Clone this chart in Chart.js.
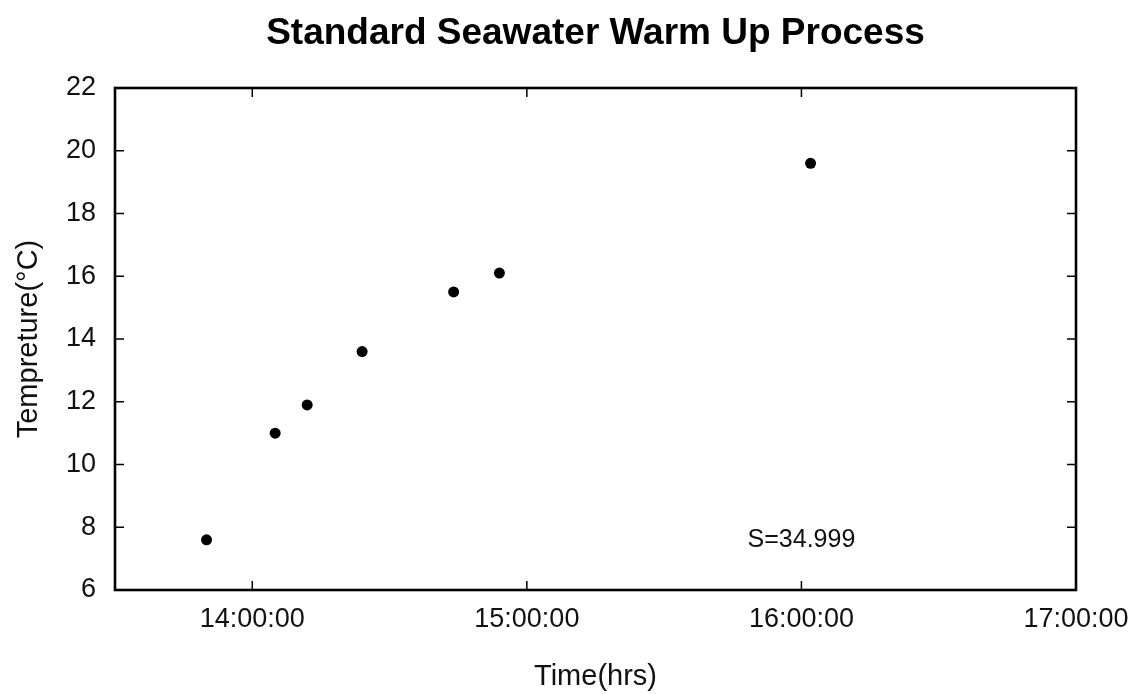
<!DOCTYPE html>
<html lang="en">
<head>
  <meta charset="UTF-8" />
  <title>Standard Seawater Warm Up Process</title>
  <script src="https://cdn.jsdelivr.net/npm/chart.js@4.4.1/dist/chart.umd.min.js"></script>
  <style>
    html, body { margin: 0; padding: 0; background: #fff; }
    canvas { display: block; }
  </style>
</head>
<body>
  <canvas id="warmUpChart" width="1143" height="694"></canvas>

  <script>
    // logged sample times (hh:mm) and bath temperature in degC
    const sampleTimes = ['13:50', '14:05', '14:12', '14:24', '14:44', '14:54', '16:02'];
    const temperatures = [7.6, 11.0, 11.9, 13.6, 15.5, 16.1, 19.6];

    // axis ticks
    const hourTicks = [14, 15, 16, 17];
    const hourLabels = ['14:00:00', '15:00:00', '16:00:00', '17:00:00'];
    const tempTicks = [6, 8, 10, 12, 14, 16, 18, 20, 22];

    const chartTitle = 'Standard Seawater Warm Up Process';

    // salinity of the standard seawater batch
    const salinityNote = 'S=34.999';
    const noteAt = { time: 16, temp: 7.6 };

    const FONT = "'Liberation Sans', Arial, Helvetica, sans-serif";

    const toHours = t => {
      const [h, m] = t.split(':').map(Number);
      return h + m / 60;
    };
    const points = sampleTimes.map((t, i) => ({ x: toHours(t), y: temperatures[i] }));

    // closed box around the plot, inward ticks on every side, title and the S= note
    const boxFrame = {
      id: 'boxFrame',
      afterDraw(chart) {
        const { ctx, chartArea: a, scales: { x, y } } = chart;
        const len = 9;
        ctx.save();
        ctx.strokeStyle = '#000';
        ctx.lineWidth = 1.5;
        ctx.beginPath();
        x.ticks.forEach(t => {
          const px = x.getPixelForValue(t.value);
          if (px <= a.left + 2 || px >= a.right - 2) return;
          ctx.moveTo(px, a.bottom); ctx.lineTo(px, a.bottom - len);
          ctx.moveTo(px, a.top); ctx.lineTo(px, a.top + len);
        });
        y.ticks.forEach(t => {
          const py = y.getPixelForValue(t.value);
          if (py <= a.top + 2 || py >= a.bottom - 2) return;
          ctx.moveTo(a.left, py); ctx.lineTo(a.left + len, py);
          ctx.moveTo(a.right, py); ctx.lineTo(a.right - len, py);
        });
        ctx.stroke();
        ctx.lineWidth = 2.6;
        ctx.strokeRect(a.left, a.top, a.width, a.height);

        ctx.textAlign = 'center';
        ctx.textBaseline = 'middle';
        ctx.fillStyle = '#000';
        ctx.font = 'bold 37px ' + FONT;
        ctx.fillText(chartTitle, (a.left + a.right) / 2, 34);

        ctx.fillStyle = '#111';
        ctx.font = '25px ' + FONT;
        ctx.fillText(salinityNote, x.getPixelForValue(noteAt.time), y.getPixelForValue(noteAt.temp));
        ctx.restore();
      }
    };

    new Chart(document.getElementById('warmUpChart'), {
      type: 'scatter',
      data: {
        datasets: [{
          data: points,
          pointRadius: 5.5,
          pointHoverRadius: 5.5,
          pointBackgroundColor: '#000',
          pointBorderWidth: 0
        }]
      },
      options: {
        responsive: false,
        animation: false,
        layout: { padding: { left: 0, right: 67, top: 88, bottom: 0 } },
        plugins: {
          legend: { display: false },
          tooltip: { enabled: false },
          title: { display: false }
        },
        scales: {
          x: {
            type: 'linear',
            min: 13.5,
            max: 17,
            afterBuildTicks: s => { s.ticks = hourTicks.map(v => ({ value: v })); },
            afterFit: s => { s.height = 104; },
            grid: { display: false },
            border: { display: false },
            ticks: {
              color: '#111',
              padding: 5,
              maxRotation: 0,
              font: { family: FONT, size: 27 },
              callback: v => hourLabels[hourTicks.indexOf(v)]
            },
            title: {
              display: true,
              text: 'Time(hrs)',
              color: '#111',
              font: { family: FONT, size: 29 },
              padding: { bottom: 0 }
            }
          },
          y: {
            min: 6,
            max: 22,
            afterBuildTicks: s => { s.ticks = tempTicks.map(v => ({ value: v })); },
            afterFit: s => { s.width = 115; },
            grid: { display: false },
            border: { display: false },
            ticks: {
              color: '#111',
              padding: 11,
              font: { family: FONT, size: 27 }
            },
            title: {
              display: true,
              text: 'Tempreture(\u00B0C)',
              color: '#111',
              font: { family: FONT, size: 29 },
              padding: { top: 12 }
            }
          }
        }
      },
      plugins: [boxFrame]
    });
  </script>
</body>
</html>
